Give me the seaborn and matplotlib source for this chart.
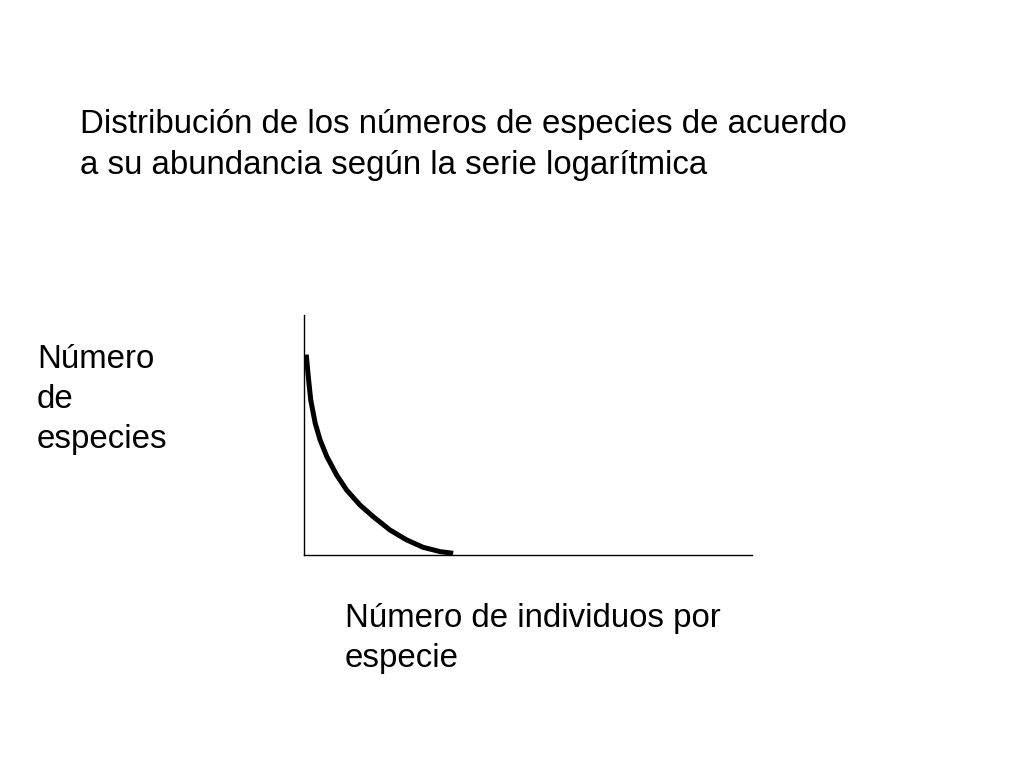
import matplotlib
matplotlib.use("Agg")
import matplotlib.pyplot as plt
import seaborn as sns
import pandas as pd

# Schematic curve values (arbitrary units)
abundance = [0.5, 0.96, 1.5, 2.5, 3.6, 5.1, 7.3, 9.5, 12.5, 15.5, 19.2, 22.9, 26.6, 30.4, 33.3]
n_species = [83.5, 74.3, 64.6, 54.9, 47.9, 41.0, 33.3, 27.1, 20.8, 15.9, 10.4, 6.3, 3.2, 1.4, 0.7]

title_text = "Distribución de los números de especies de acuerdo\na su abundancia según la serie logarítmica"
ylabel_text = "Número\nde\nespecies"
xlabel_text = "Número de individuos por\nespecie"

sns.set_style("white")
plt.rcParams['font.family'] = ['Liberation Sans', 'DejaVu Sans']

df = pd.DataFrame({"abundance": abundance, "n_species": n_species})

fig = plt.figure(figsize=(10.24, 7.68), dpi=100)
ax = fig.add_axes([304/1024, 1-555/768, 448/1024, 240/768])
sns.lineplot(data=df, x="abundance", y="n_species", ax=ax, color="black",
             linewidth=3.6, solid_capstyle="butt", solid_joinstyle="round")
ax.set_xlim(0, 100)
ax.set_ylim(0, 100)
ax.set_xticks([])
ax.set_yticks([])
ax.set_xlabel("")
ax.set_ylabel("")
for s in ["top", "right"]:
    ax.spines[s].set_visible(False)
for s in ["left", "bottom"]:
    ax.spines[s].set_color("black")
    ax.spines[s].set_linewidth(1.0)

FS = 23.8
LS = 1.4
# va="baseline" aligns the baseline of the last line
fig.text(80/1024, 1-174/768, title_text, fontsize=FS, ha="left", va="baseline",
         linespacing=LS, color="black")
fig.text(37/1024, 1-448/768, ylabel_text, fontsize=FS, ha="left", va="baseline",
         linespacing=1.38, color="black")
fig.text(345/1024, 1-667/768, xlabel_text, fontsize=FS, ha="left", va="baseline",
         linespacing=1.38, color="black")

fig.savefig("out.png", dpi=100, facecolor="white")
